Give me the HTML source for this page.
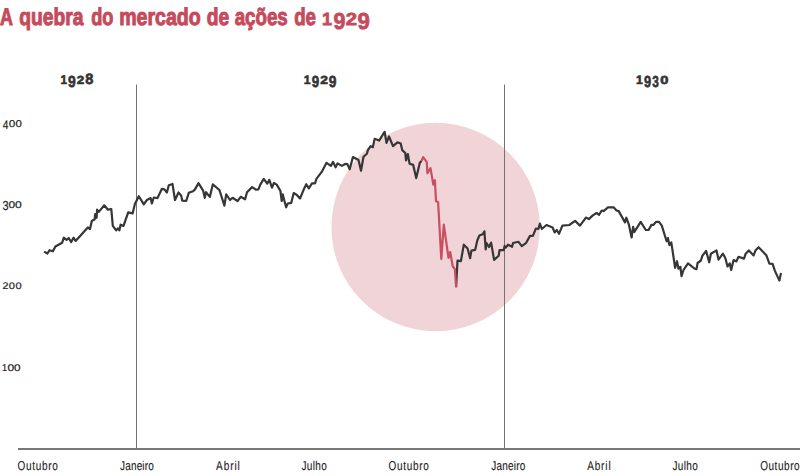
<!DOCTYPE html>
<html><head><meta charset="utf-8">
<style>
html,body{margin:0;padding:0;background:#fff;}
body{width:800px;height:476px;overflow:hidden;position:relative;}
svg{position:absolute;left:0;top:0;}
text{font-family:"Liberation Sans",sans-serif;text-rendering:geometricPrecision;}
</style></head><body>
<svg width="800" height="476" viewBox="0 0 800 476">
<circle cx="435.6" cy="227" r="104.2" fill="#f1d4d7"/>
<line x1="136.5" y1="84.5" x2="136.5" y2="448" stroke="#737373" stroke-width="1"/>
<line x1="504.5" y1="84.5" x2="504.5" y2="448" stroke="#737373" stroke-width="1"/>
<line x1="18" y1="449" x2="800" y2="449" stroke="#777" stroke-width="2"/>
<path d="M44.1,251.6 L47.4,253.5 L49.6,250.2 L52.9,251.3 L55.4,246.5 L62.1,242.8 L63.8,237.7 L66.5,239.9 L68.7,238.0 L71.2,242.1 L73.5,237.7 L75.6,240.9 L87.8,227.4 L90.0,229.1 L91.8,221.0 L94.7,219.3 L95.1,214.1 L96.6,217.8 L97.1,209.7 L98.8,211.9 L104.3,205.3 L107.9,209.7 L111.3,209.0 L112.8,225.9 L116.2,230.3 L117.9,228.5 L119.4,230.3 L120.6,224.7 L123.5,225.9 L128.2,212.4 L132.6,213.4 L134.9,204.1 L138.8,196.2 L143.8,204.4 L146.9,200.0 L150.6,198.1 L151.9,203.5 L153.8,197.5 L157.5,198.1 L161.9,188.8 L164.4,189.4 L166.9,192.5 L168.8,185.2 L172.5,184.0 L175.0,200.0 L178.5,192.5 L181.2,195.6 L182.2,200.6 L186.2,201.0 L188.8,192.8 L193.1,191.2 L195.0,189.4 L198.5,183.1 L203.1,190.6 L204.8,197.8 L206.0,192.2 L209.8,196.9 L212.8,184.4 L219.4,190.0 L224.4,205.6 L226.2,194.4 L230.0,200.0 L232.5,197.8 L237.6,201.0 L240.7,196.8 L245.1,199.3 L247.0,192.2 L252.1,187.1 L255.9,189.6 L258.4,189.3 L260.3,184.6 L263.8,178.9 L267.2,183.7 L269.3,179.9 L272.0,187.7 L273.9,183.0 L276.7,184.6 L280.4,190.9 L281.7,201.0 L282.7,194.3 L286.1,207.3 L287.8,203.5 L291.2,202.9 L293.7,193.0 L296.6,194.7 L300.0,198.5 L303.8,189.3 L306.3,184.2 L308.8,188.4 L312.0,183.3 L315.1,183.3 L316.4,178.9 L322.1,171.3 L326.5,162.8 L330.9,165.9 L333.1,161.9 L335.6,167.4 L337.5,163.4 L341.9,165.9 L345.6,163.8 L347.4,164.1 L349.7,169.3 L352.9,157.1 L358.5,160.0 L361.0,170.7 L363.5,156.8 L366.9,153.8 L367.9,150.1 L370.6,146.2 L372.8,147.2 L374.7,138.8 L379.1,140.6 L384.6,131.8 L386.5,142.8 L389.0,136.5 L393.0,146.2 L397.4,142.4 L400.7,143.5 L402.2,150.1 L405.3,153.0 L406.0,160.5 L407.8,154.0 L409.6,163.8 L413.2,164.9 L416.2,178.1 L419.9,162.6 L421.5,161.0" fill="none" stroke="#363636" stroke-width="2.2" stroke-linejoin="round"/>
<path d="M456.1,287.3 L457.5,260.7 L460.9,261.1 L463.8,244.7 L467.6,248.5 L470.1,258.2 L471.4,250.6 L475.2,249.8 L477.3,240.5 L479.4,235.5 L482.7,234.2 L484.4,231.3 L485.7,249.4 L486.5,243.0 L489.0,247.0 L491.1,242.6 L494.1,259.9 L498.7,255.7 L499.5,250.2 L503.7,250.2 L504.6,246.0 L505.8,247.7 L508.0,244.7 L512.1,246.8 L513.0,243.0 L518.5,241.8 L521.8,246.2 L525.9,243.2 L530.0,235.9 L532.9,235.9 L535.9,228.5 L538.4,229.0 L539.9,223.5 L541.8,229.0 L546.5,225.0 L552.6,227.5 L554.6,232.4 L556.8,230.0 L559.0,233.8 L562.4,225.6 L569.3,225.0 L575.1,220.9 L580.0,225.6 L585.9,217.6 L588.8,219.1 L592.8,215.4 L596.6,213.0 L599.1,214.8 L601.7,210.5 L603.6,211.1 L608.0,207.3 L613.6,207.3 L616.5,210.5 L618.7,211.1 L625.0,222.4 L626.3,217.7 L628.8,224.3 L631.6,237.5 L633.1,226.8 L634.4,231.9 L640.7,221.8 L645.8,230.0 L648.6,230.0 L651.4,224.9 L653.3,224.9 L656.2,221.8 L659.0,221.8 L661.8,225.6 L666.6,241.3 L667.9,238.1 L669.4,245.1 L671.3,242.3 L675.1,267.8 L677.0,261.2 L678.5,268.7 L680.4,266.8 L681.5,276.2 L683.5,270.0 L688.0,263.3 L694.4,268.5 L696.5,269.2 L697.6,263.0 L700.9,260.5 L702.3,255.9 L706.1,250.9 L709.2,262.3 L710.9,253.7 L716.5,250.4 L718.5,259.6 L722.9,253.7 L725.4,258.2 L727.5,266.5 L729.8,263.3 L731.2,269.9 L733.6,260.0 L736.4,261.4 L738.5,256.8 L744.0,258.6 L745.7,253.7 L748.8,250.4 L753.6,255.4 L755.4,250.6 L758.6,247.2 L764.2,253.1 L766.3,255.2 L769.4,263.6 L772.6,263.8 L774.7,270.4 L779.4,280.6 L781.0,273.0" fill="none" stroke="#363636" stroke-width="2.2" stroke-linejoin="round"/>
<path d="M421.5,161.0 L423.1,157.1 L426.7,161.8 L427.4,173.3 L430.5,168.1 L433.3,184.6 L434.9,180.2 L436.0,201.2 L438.1,202.0 L441.3,259.0 L443.8,224.7 L448.5,257.9 L450.2,252.0 L452.7,266.3 L454.9,269.1 L456.1,287.3" fill="none" stroke="#c94e60" stroke-width="2.2" stroke-linejoin="round"/>
<text transform="translate(0.05,25.20) scale(0.7453,1)" x="0" y="0" font-size="24" font-weight="bold" letter-spacing="0.000" fill="#c54b5c" stroke="#c54b5c" stroke-width="1.0" >A</text>
<text transform="translate(19.21,25.20) scale(0.8019,1)" x="0" y="0" font-size="24" font-weight="bold" letter-spacing="0.000" fill="#c54b5c" stroke="#c54b5c" stroke-width="1.0" >quebra</text>
<text transform="translate(91.15,25.20) scale(0.7592,1)" x="0" y="0" font-size="24" font-weight="bold" letter-spacing="-0.000" fill="#c54b5c" stroke="#c54b5c" stroke-width="1.0" >do</text>
<text transform="translate(119.21,25.20) scale(0.8152,1)" x="0" y="0" font-size="24" font-weight="bold" letter-spacing="0.000" fill="#c54b5c" stroke="#c54b5c" stroke-width="1.0" >mercado</text>
<text transform="translate(206.71,25.20) scale(0.8014,1)" x="0" y="0" font-size="24" font-weight="bold" letter-spacing="0.000" fill="#c54b5c" stroke="#c54b5c" stroke-width="1.0" >de</text>
<text transform="translate(234.70,25.20) scale(0.7798,1)" x="0" y="0" font-size="24" font-weight="bold" letter-spacing="0.000" fill="#c54b5c" stroke="#c54b5c" stroke-width="1.0" >ações</text>
<text transform="translate(294.13,25.20) scale(0.7785,1)" x="0" y="0" font-size="24" font-weight="bold" letter-spacing="0.000" fill="#c54b5c" stroke="#c54b5c" stroke-width="1.0" >de</text>
<text x="322.14" y="25.32" font-size="17.73" font-weight="bold" textLength="9.98" lengthAdjust="spacingAndGlyphs" fill="#c54b5c" stroke="#c54b5c" stroke-width="0.75">1</text>
<text x="333.38" y="29.30" font-size="23.16" font-weight="bold" textLength="11.94" lengthAdjust="spacingAndGlyphs" fill="#c54b5c" stroke="#c54b5c" stroke-width="0.75">9</text>
<text x="345.67" y="25.32" font-size="17.47" font-weight="bold" textLength="11.26" lengthAdjust="spacingAndGlyphs" fill="#c54b5c" stroke="#c54b5c" stroke-width="0.75">2</text>
<text x="357.51" y="29.30" font-size="23.16" font-weight="bold" textLength="12.34" lengthAdjust="spacingAndGlyphs" fill="#c54b5c" stroke="#c54b5c" stroke-width="0.75">9</text>
<text x="60.56" y="84.10" font-size="12.65" font-weight="bold" textLength="6.57" lengthAdjust="spacingAndGlyphs" fill="#333" stroke="#333" stroke-width="0.6">1</text>
<text x="68.12" y="86.74" font-size="15.96" font-weight="bold" textLength="7.75" lengthAdjust="spacingAndGlyphs" fill="#333" stroke="#333" stroke-width="0.6">9</text>
<text x="76.73" y="83.80" font-size="11.74" font-weight="bold" textLength="7.51" lengthAdjust="spacingAndGlyphs" fill="#333" stroke="#333" stroke-width="0.6">2</text>
<text x="85.34" y="83.65" font-size="15.11" font-weight="bold" textLength="8.11" lengthAdjust="spacingAndGlyphs" fill="#333" stroke="#333" stroke-width="0.6">8</text>
<text x="303.83" y="84.10" font-size="12.35" font-weight="bold" textLength="6.81" lengthAdjust="spacingAndGlyphs" fill="#333" stroke="#333" stroke-width="0.6">1</text>
<text x="311.69" y="86.74" font-size="15.96" font-weight="bold" textLength="7.41" lengthAdjust="spacingAndGlyphs" fill="#333" stroke="#333" stroke-width="0.6">9</text>
<text x="320.22" y="83.80" font-size="11.74" font-weight="bold" textLength="7.74" lengthAdjust="spacingAndGlyphs" fill="#333" stroke="#333" stroke-width="0.6">2</text>
<text x="328.82" y="86.74" font-size="15.96" font-weight="bold" textLength="7.69" lengthAdjust="spacingAndGlyphs" fill="#333" stroke="#333" stroke-width="0.6">9</text>
<text x="636.03" y="84.10" font-size="12.35" font-weight="bold" textLength="6.81" lengthAdjust="spacingAndGlyphs" fill="#333" stroke="#333" stroke-width="0.6">1</text>
<text x="643.96" y="86.74" font-size="15.96" font-weight="bold" textLength="7.12" lengthAdjust="spacingAndGlyphs" fill="#333" stroke="#333" stroke-width="0.6">9</text>
<text x="652.23" y="86.72" font-size="15.93" font-weight="bold" textLength="6.60" lengthAdjust="spacingAndGlyphs" fill="#333" stroke="#333" stroke-width="0.6">3</text>
<text x="660.22" y="83.69" font-size="11.58" font-weight="bold" textLength="8.19" lengthAdjust="spacingAndGlyphs" fill="#333" stroke="#333" stroke-width="0.6">0</text>
<text x="2.72" y="128.50" font-size="12.21" textLength="5.68" lengthAdjust="spacingAndGlyphs" fill="#1e1e1e" stroke="#1e1e1e" stroke-width="0.2">4</text>
<text x="8.74" y="126.55" font-size="9.96" textLength="6.57" lengthAdjust="spacingAndGlyphs" fill="#1e1e1e" stroke="#1e1e1e" stroke-width="0.2">0</text>
<text x="15.45" y="126.55" font-size="9.96" textLength="6.40" lengthAdjust="spacingAndGlyphs" fill="#1e1e1e" stroke="#1e1e1e" stroke-width="0.2">0</text>
<text x="2.38" y="210.17" font-size="12.99" textLength="6.10" lengthAdjust="spacingAndGlyphs" fill="#1e1e1e" stroke="#1e1e1e" stroke-width="0.2">3</text>
<text x="8.53" y="207.90" font-size="9.75" textLength="6.63" lengthAdjust="spacingAndGlyphs" fill="#1e1e1e" stroke="#1e1e1e" stroke-width="0.2">0</text>
<text x="15.13" y="207.90" font-size="9.75" textLength="6.75" lengthAdjust="spacingAndGlyphs" fill="#1e1e1e" stroke="#1e1e1e" stroke-width="0.2">0</text>
<text x="2.41" y="289.00" font-size="9.60" textLength="5.92" lengthAdjust="spacingAndGlyphs" fill="#1e1e1e" stroke="#1e1e1e" stroke-width="0.2">2</text>
<text x="8.77" y="288.91" font-size="9.46" textLength="6.17" lengthAdjust="spacingAndGlyphs" fill="#1e1e1e" stroke="#1e1e1e" stroke-width="0.2">0</text>
<text x="15.47" y="288.91" font-size="9.46" textLength="6.17" lengthAdjust="spacingAndGlyphs" fill="#1e1e1e" stroke="#1e1e1e" stroke-width="0.2">0</text>
<text x="2.09" y="370.65" font-size="9.96" textLength="5.16" lengthAdjust="spacingAndGlyphs" fill="#1e1e1e" stroke="#1e1e1e" stroke-width="0.2">1</text>
<text x="7.53" y="370.56" font-size="9.68" textLength="6.63" lengthAdjust="spacingAndGlyphs" fill="#1e1e1e" stroke="#1e1e1e" stroke-width="0.2">0</text>
<text x="14.04" y="370.56" font-size="9.68" textLength="6.52" lengthAdjust="spacingAndGlyphs" fill="#1e1e1e" stroke="#1e1e1e" stroke-width="0.2">0</text>
<text transform="translate(17.59,470.40) scale(0.7800,1)" x="0" y="0" font-size="12.8" letter-spacing="0.875" fill="#1a1a1a" stroke="#1a1a1a" stroke-width="0.12" >Outubro</text>
<text transform="translate(120.10,470.40) scale(0.7800,1)" x="0" y="0" font-size="12.8" letter-spacing="0.194" fill="#1a1a1a" stroke="#1a1a1a" stroke-width="0.12" >Janeiro</text>
<text transform="translate(216.04,470.40) scale(0.7800,1)" x="0" y="0" font-size="12.8" letter-spacing="1.216" fill="#1a1a1a" stroke="#1a1a1a" stroke-width="0.12" >Abril</text>
<text transform="translate(301.50,470.40) scale(0.7800,1)" x="0" y="0" font-size="12.8" letter-spacing="0.445" fill="#1a1a1a" stroke="#1a1a1a" stroke-width="0.12" >Julho</text>
<text transform="translate(388.59,470.40) scale(0.7800,1)" x="0" y="0" font-size="12.8" letter-spacing="0.875" fill="#1a1a1a" stroke="#1a1a1a" stroke-width="0.12" >Outubro</text>
<text transform="translate(491.30,470.40) scale(0.7800,1)" x="0" y="0" font-size="12.8" letter-spacing="0.280" fill="#1a1a1a" stroke="#1a1a1a" stroke-width="0.12" >Janeiro</text>
<text transform="translate(587.14,470.40) scale(0.7800,1)" x="0" y="0" font-size="12.8" letter-spacing="1.120" fill="#1a1a1a" stroke="#1a1a1a" stroke-width="0.12" >Abril</text>
<text transform="translate(672.50,470.40) scale(0.7800,1)" x="0" y="0" font-size="12.8" letter-spacing="0.445" fill="#1a1a1a" stroke="#1a1a1a" stroke-width="0.12" >Julho</text>
<text transform="translate(760.19,470.40) scale(0.7800,1)" x="0" y="0" font-size="12.8" letter-spacing="0.705" fill="#1a1a1a" stroke="#1a1a1a" stroke-width="0.12" >Outubro</text>
</svg>
</body></html>
